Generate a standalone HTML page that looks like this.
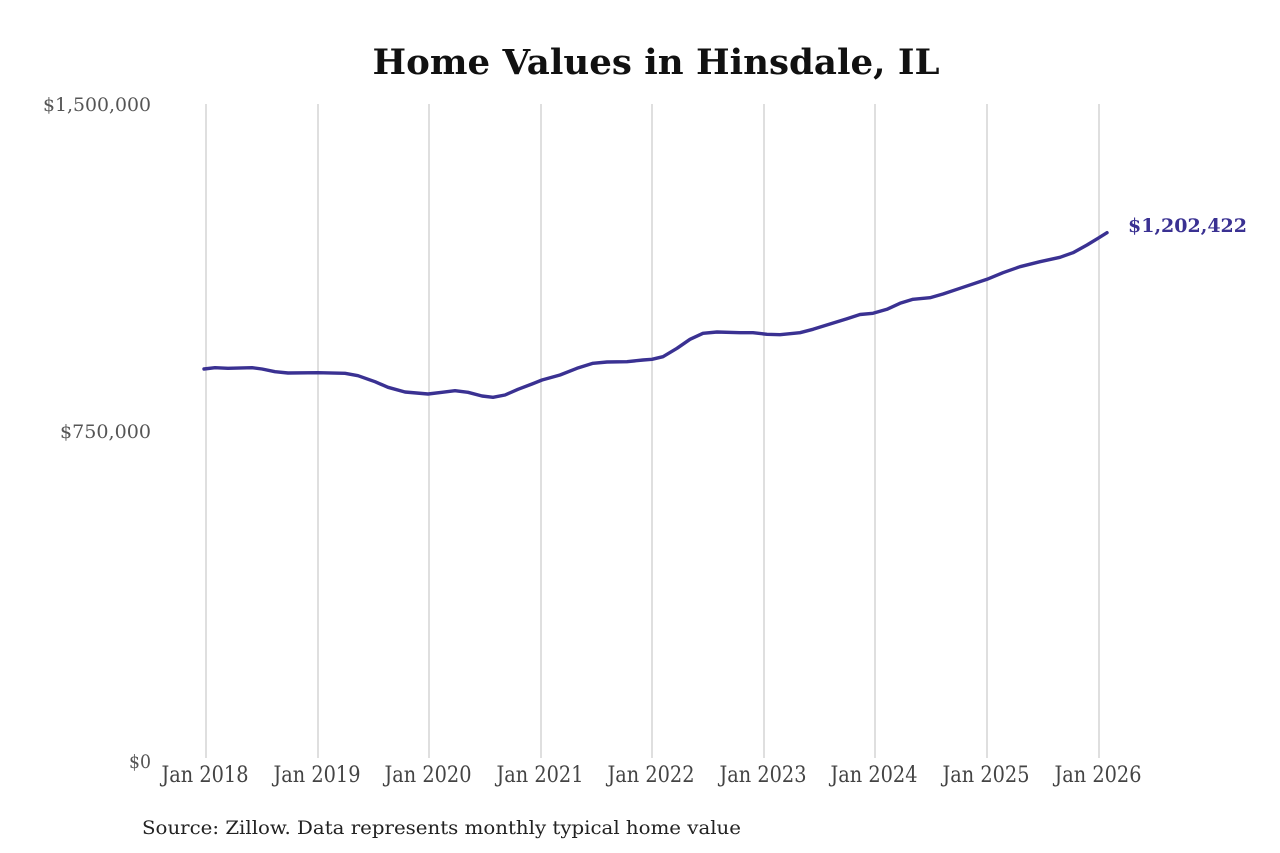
<!DOCTYPE html>
<html>
<head>
<meta charset="utf-8">
<style>
  html,body{margin:0;padding:0;background:#fff;}
  svg{display:block;}
</style>
</head>
<body>
<svg width="1280" height="853" viewBox="0 0 1280 853" xmlns="http://www.w3.org/2000/svg">
  <rect width="1280" height="853" fill="#ffffff"/>
  <text x="656" y="74" text-anchor="middle" font-family="'DejaVu Serif','Liberation Serif',serif" font-weight="bold" font-size="35" fill="#111" textLength="567" lengthAdjust="spacingAndGlyphs">Home Values in Hinsdale, IL</text>

  <g stroke="#bfbfbf" stroke-width="1">
    <line x1="206" y1="104" x2="206" y2="758"/>
    <line x1="318" y1="104" x2="318" y2="758"/>
    <line x1="429" y1="104" x2="429" y2="758"/>
    <line x1="541" y1="104" x2="541" y2="758"/>
    <line x1="652" y1="104" x2="652" y2="758"/>
    <line x1="764" y1="104" x2="764" y2="758"/>
    <line x1="875" y1="104" x2="875" y2="758"/>
    <line x1="987" y1="104" x2="987" y2="758"/>
    <line x1="1099" y1="104" x2="1099" y2="758"/>
  </g>

  <g font-family="'DejaVu Serif','Liberation Serif',serif" font-size="19" fill="#555" text-anchor="end">
    <text x="151" y="111" textLength="108" lengthAdjust="spacingAndGlyphs">$1,500,000</text>
    <text x="151" y="438" textLength="91" lengthAdjust="spacingAndGlyphs">$750,000</text>
    <text x="151" y="768" textLength="22" lengthAdjust="spacingAndGlyphs">$0</text>
  </g>

  <g font-family="'DejaVu Serif','Liberation Serif',serif" font-size="22" fill="#444" text-anchor="middle">
    <text x="205" y="782" textLength="87" lengthAdjust="spacingAndGlyphs">Jan 2018</text>
    <text x="317" y="782" textLength="87" lengthAdjust="spacingAndGlyphs">Jan 2019</text>
    <text x="428" y="782" textLength="87" lengthAdjust="spacingAndGlyphs">Jan 2020</text>
    <text x="540" y="782" textLength="87" lengthAdjust="spacingAndGlyphs">Jan 2021</text>
    <text x="651" y="782" textLength="87" lengthAdjust="spacingAndGlyphs">Jan 2022</text>
    <text x="763" y="782" textLength="87" lengthAdjust="spacingAndGlyphs">Jan 2023</text>
    <text x="874" y="782" textLength="87" lengthAdjust="spacingAndGlyphs">Jan 2024</text>
    <text x="986" y="782" textLength="87" lengthAdjust="spacingAndGlyphs">Jan 2025</text>
    <text x="1098" y="782" textLength="87" lengthAdjust="spacingAndGlyphs">Jan 2026</text>
  </g>

  <polyline fill="none" stroke="#3a3192" stroke-width="3.4" stroke-linejoin="round" stroke-linecap="round"
    points="204,369 215,367.7 228,368.3 252,367.7 262,369 275,371.7 288,373 318,372.7 345,373.3 358,375.7 375,381.7 388,387.3 405,392 428,394 442,392.3 455,390.7 468,392.3 482,396 493,397.3 505,395 518,389.3 532,384 542,380 560,375 577,368.3 593,363.3 607,362 627,361.7 643,360 652,359.3 663,356.7 677,348.3 690,339.3 703,333.3 717,332 740,332.7 753,332.7 767,334.3 780,334.7 800,332.7 813,329.3 830,324 847,318.7 860,314.5 873,313.3 887,309.3 900,303.3 913,299.3 930,297.7 943,294 960,288.3 987,279.3 1003,272.7 1020,266.7 1040,261.7 1060,257.3 1073,252.7 1087,245 1098,238.3 1107,232.7"/>

  <text x="1128" y="232" font-family="'DejaVu Serif','Liberation Serif',serif" font-weight="bold" font-size="19" fill="#3a3192" textLength="119" lengthAdjust="spacingAndGlyphs">$1,202,422</text>

  <text x="142" y="834" font-family="'DejaVu Serif','Liberation Serif',serif" font-size="19" fill="#222" textLength="599" lengthAdjust="spacingAndGlyphs">Source: Zillow. Data represents monthly typical home value</text>
</svg>
</body>
</html>
